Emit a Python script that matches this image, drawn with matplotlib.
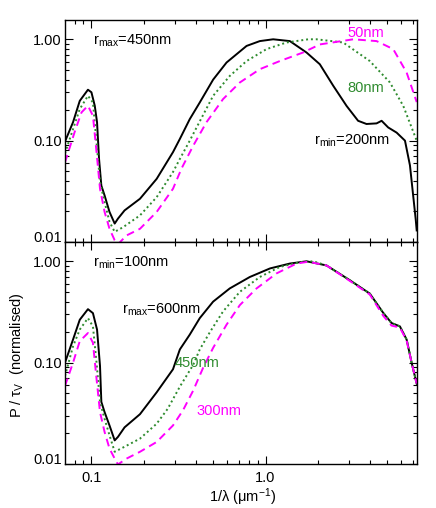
import matplotlib
matplotlib.use("Agg")
import matplotlib.pyplot as plt
from matplotlib.ticker import FixedLocator, NullFormatter, FixedFormatter, LogLocator

plt.rcParams["font.family"] = ["Liberation Sans", "DejaVu Sans"]
plt.rcParams["mathtext.fontset"] = "custom"
plt.rcParams["mathtext.rm"] = "Liberation Sans"
plt.rcParams["mathtext.it"] = "Liberation Sans:italic"

# --- top panel: r_max = 450nm, varying r_min ---
top_x_200 = [0.0705, 0.0784, 0.0857, 0.0955, 0.100, 0.1045, 0.1077, 0.1106, 0.114, 0.119,
             0.127, 0.136, 0.142, 0.155, 0.19, 0.237, 0.294, 0.322, 0.367, 0.419,
             0.5, 0.597, 0.778, 0.927, 1.106, 1.379, 1.72, 2.05, 2.45, 2.92,
             3.40, 3.80, 4.34, 4.64, 5.06, 5.66, 6.32, 6.75, 7.29, 7.38]
top_y_200 = [0.098, 0.152, 0.247, 0.318, 0.30, 0.221, 0.152, 0.066, 0.036, 0.0288,
             0.0198, 0.0152, 0.017, 0.0205, 0.0267, 0.042, 0.077, 0.104, 0.163, 0.238,
             0.40, 0.59, 0.86, 0.96, 1.0, 0.96, 0.74, 0.567, 0.347, 0.22,
             0.157, 0.146, 0.148, 0.157, 0.135, 0.12, 0.10, 0.057, 0.0165, 0.013]

top_x_80 = [0.0705, 0.0784, 0.0857, 0.0955, 0.102, 0.107, 0.112, 0.119, 0.127, 0.136,
            0.152, 0.19, 0.237, 0.294, 0.322, 0.367, 0.419, 0.5, 0.623, 0.778,
            1.013, 1.32, 1.76, 1.963, 2.79, 3.97, 5.18, 6.18, 7.38]
top_y_80 = [0.075, 0.13, 0.205, 0.277, 0.238, 0.096, 0.039, 0.0248, 0.0158, 0.0126,
            0.014, 0.0183, 0.0277, 0.049, 0.066, 0.10, 0.155, 0.277, 0.435, 0.61,
            0.80, 0.93, 1.0, 1.0, 0.93, 0.61, 0.375, 0.22, 0.10]

top_x_50 = [0.0705, 0.080, 0.0877, 0.0955, 0.102, 0.107, 0.112, 0.119, 0.127, 0.136,
            0.142, 0.159, 0.19, 0.237, 0.294, 0.329, 0.384, 0.458, 0.57, 0.712,
            0.927, 1.208, 1.64, 2.05, 3.19, 4.34, 5.41, 6.46, 7.38]
top_y_50 = [0.061, 0.121, 0.19, 0.221, 0.176, 0.077, 0.0335, 0.0198, 0.0135, 0.0104,
            0.0095, 0.0116, 0.0135, 0.0198, 0.0335, 0.053, 0.089, 0.152, 0.257, 0.375,
            0.507, 0.61, 0.74, 0.89, 1.0, 0.96, 0.80, 0.47, 0.24]

# --- bottom panel: r_min = 100nm, varying r_max ---
bot_x_600 = [0.0705, 0.0784, 0.0857, 0.0955, 0.102, 0.1077, 0.112, 0.114, 0.119, 0.127,
             0.136, 0.142, 0.155, 0.19, 0.237, 0.294, 0.322, 0.367, 0.419, 0.5,
             0.623, 0.812, 1.06, 1.379, 1.72, 2.24, 3.05, 3.97, 4.74, 5.29,
             5.91, 6.46, 6.90, 7.38]
bot_y_600 = [0.100, 0.169, 0.265, 0.337, 0.308, 0.212, 0.093, 0.041, 0.0325, 0.024,
             0.0171, 0.0185, 0.023, 0.031, 0.051, 0.086, 0.135, 0.189, 0.275, 0.40,
             0.54, 0.70, 0.85, 0.95, 1.0, 0.91, 0.65, 0.48, 0.31, 0.246,
             0.228, 0.169, 0.10, 0.062]

bot_x_450 = [0.0705, 0.0784, 0.0857, 0.0955, 0.102, 0.107, 0.112, 0.119, 0.127, 0.136,
             0.155, 0.19, 0.237, 0.274, 0.322, 0.384, 0.419, 0.479, 0.57, 0.712,
             0.927, 1.208, 1.575, 1.877, 2.24, 3.05, 3.97, 4.74, 5.29, 5.91,
             6.46, 6.90, 7.38]
bot_y_450 = [0.074, 0.145, 0.212, 0.275, 0.228, 0.10, 0.041, 0.0279, 0.0192, 0.0132,
             0.0148, 0.0178, 0.025, 0.035, 0.058, 0.095, 0.135, 0.20, 0.32, 0.50,
             0.70, 0.88, 0.98, 1.0, 0.91, 0.65, 0.48, 0.31, 0.246, 0.228,
             0.169, 0.10, 0.062]

bot_x_300 = [0.0705, 0.0784, 0.0857, 0.0955, 0.102, 0.107, 0.112, 0.119, 0.127, 0.136,
             0.142, 0.159, 0.19, 0.237, 0.294, 0.336, 0.384, 0.438, 0.5, 0.597,
             0.712, 0.888, 1.157, 1.507, 1.76, 2.24, 3.05, 3.97, 4.74, 5.29,
             5.91, 6.46, 6.90, 7.38]
bot_y_300 = [0.059, 0.10, 0.163, 0.196, 0.157, 0.069, 0.0325, 0.0207, 0.0142, 0.0113,
             0.0099, 0.0113, 0.0132, 0.0165, 0.024, 0.034, 0.053, 0.089, 0.14, 0.237,
             0.37, 0.54, 0.76, 0.95, 0.99, 0.91, 0.64, 0.47, 0.29, 0.232,
             0.222, 0.165, 0.10, 0.062]

y_ticks = [0.01, 0.1, 1.0]
y_ticklabels = ["0.01", "0.10", "1.00"]
x_ticks = [0.1, 1.0]
x_ticklabels = ["0.1", "1.0"]

MAGENTA = "#ff00ff"
GREEN = "#2e8b2e"
FS = 10.5

fig = plt.figure(figsize=(4.36, 5.08), dpi=100)
W, H = 436.0, 508.0
left, right = 65 / W, 416.7 / W
ax_top = fig.add_axes([left, 1 - 242 / H, right - left, 222 / H])
ax_bot = fig.add_axes([left, 1 - 464 / H, right - left, 222 / H])


def style_axis(ax, show_xlabels):
    ax.set_xscale("log")
    ax.set_yscale("log")
    ax.set_xlim(0.0705, 7.38)
    ax.set_ylim(0.01, 1.55)
    ax.yaxis.set_major_locator(FixedLocator(y_ticks))
    ax.yaxis.set_major_formatter(FixedFormatter(y_ticklabels))
    ax.yaxis.set_minor_locator(LogLocator(base=10, subs=range(2, 10), numticks=20))
    ax.yaxis.set_minor_formatter(NullFormatter())
    ax.xaxis.set_major_locator(FixedLocator(x_ticks))
    ax.xaxis.set_minor_locator(LogLocator(base=10, subs=range(2, 10), numticks=20))
    ax.xaxis.set_minor_formatter(NullFormatter())
    if show_xlabels:
        ax.xaxis.set_major_formatter(FixedFormatter(x_ticklabels))
    else:
        ax.xaxis.set_major_formatter(NullFormatter())
    ax.tick_params(which="both", direction="in", top=True, right=True,
                   width=0.8, labelsize=FS)
    ax.tick_params(which="major", length=5.5)
    ax.tick_params(which="minor", length=3)
    ax.tick_params(axis="y", pad=2.5)
    ax.tick_params(axis="x", pad=5)
    for sp in ax.spines.values():
        sp.set_linewidth(1.0)
    # lift the bottom "0.01" label off the panel edge, as in the original
    ax.yaxis.get_major_ticks()[0].label1.set_va("baseline")


lw = 1.4
dot = (0, (1, 1.5))
dash = (0, (4, 2.6))

ax_top.plot(top_x_200, top_y_200, color="black", lw=lw)
ax_top.plot(top_x_80, top_y_80, color=GREEN, lw=lw, ls=dot)
ax_top.plot(top_x_50, top_y_50, color=MAGENTA, lw=lw, ls=dash)
style_axis(ax_top, False)

ax_top.text(0.1017, 0.893, r"r$_{\mathrm{max}}$=450nm", fontsize=FS, va="baseline")
ax_top.text(2.97, 1.063, "50nm", color=MAGENTA, fontsize=FS, va="baseline")
ax_top.text(2.97, 0.303, "80nm", color=GREEN, fontsize=FS, va="baseline")
ax_top.text(1.895, 0.0912, r"r$_{\mathrm{min}}$=200nm", fontsize=FS, va="baseline")

ax_bot.plot(bot_x_600, bot_y_600, color="black", lw=lw)
ax_bot.plot(bot_x_450, bot_y_450, color=GREEN, lw=lw, ls=dot)
ax_bot.plot(bot_x_300, bot_y_300, color=MAGENTA, lw=lw, ls=dash)
style_axis(ax_bot, True)

ax_bot.text(0.1017, 0.894, r"r$_{\mathrm{min}}$=100nm", fontsize=FS, va="baseline")
ax_bot.text(0.149, 0.303, r"r$_{\mathrm{max}}$=600nm", fontsize=FS, va="baseline")
ax_bot.text(0.301, 0.0907, "450nm", color=GREEN, fontsize=FS, va="baseline")
ax_bot.text(0.403, 0.0306, "300nm", color=MAGENTA, fontsize=FS, va="baseline")

fig.text(243 / W, 1 - 497 / H, r"1/λ (μm$^{-1}$)", fontsize=FS,
         ha="center", va="center")
fig.text(17 / W, 1 - 355 / H, r"P / τ$_{\mathrm{V}}$  (normalised)", fontsize=FS,
         ha="center", va="center", rotation=90)

fig.savefig("out.png", dpi=100)
